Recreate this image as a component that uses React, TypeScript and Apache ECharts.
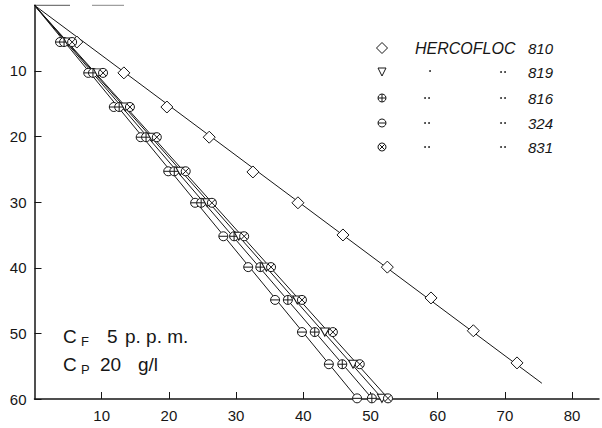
import React, { useEffect, useRef } from 'react';
import * as echarts from 'echarts';

const xTickValues = [10, 20, 30, 40, 50, 60, 70, 80];
const yTickValues = [10, 20, 30, 40, 50, 60];

const seriesNames = ['HERCOFLOC 810', 'HERCOFLOC 819', 'HERCOFLOC 816', 'HERCOFLOC 324', 'HERCOFLOC 831'];

const points810 = [[6.3, 5.6], [13.3, 10.3], [19.7, 15.5], [26.0, 20.1], [32.5, 25.4], [39.2, 30.1], [45.9, 35.0], [52.5, 39.9], [59.0, 44.6], [65.3, 49.6], [71.8, 54.5]];
const points324 = [[3.8, 5.6], [8.0, 10.3], [11.8, 15.5], [15.8, 20.1], [19.9, 25.3], [23.9, 30.1], [28.1, 35.2], [31.8, 39.9], [35.8, 44.9], [39.8, 49.8], [43.8, 54.7], [48.0, 59.9]];
const points816 = [[4.4, 5.6], [8.7, 10.3], [12.6, 15.5], [16.6, 20.1], [20.8, 25.3], [24.8, 30.1], [29.7, 35.2], [33.6, 39.9], [37.7, 44.9], [41.7, 49.8], [45.8, 54.7], [50.2, 59.9]];
const points819 = [[5.0, 5.6], [9.45, 10.3], [13.5, 15.5], [17.5, 20.1], [21.7, 25.3], [25.7, 30.1], [30.4, 35.2], [34.5, 39.9], [39.1, 44.9], [43.2, 49.8], [47.4, 54.7], [51.7, 59.9]];
const points831 = [[5.6, 5.6], [10.2, 10.3], [14.2, 15.5], [18.2, 20.1], [22.5, 25.3], [26.4, 30.1], [31.2, 35.2], [35.2, 39.9], [39.8, 44.9], [44.4, 49.8], [48.4, 54.7], [52.6, 59.9]];

const fit810 = [[0, 0], [75.5, 57.6]];
const fit324 = [[0, 0], [48.1, 60]];
const fit816 = [[0, 0], [50.3, 60]];
const fit819 = [[0, 0], [51.8, 60]];
const fit831 = [[0, 0], [52.7, 60]];

const INK = '#161616';
const CIRCLE = 'M0,10A10,10,0,1,1,20,10A10,10,0,1,1,0,10Z';
const SYM_PLUS = 'path://' + CIRCLE + 'M0,10L20,10M10,0L10,20';
const SYM_MINUS = 'path://' + CIRCLE + 'M0,10L20,10';
const SYM_X = 'path://' + CIRCLE + 'M2.93,2.93L17.07,17.07M17.07,2.93L2.93,17.07';
const SYM_TRI = 'path://M0,0L20,0L10,17Z';

function scatter(name: string, data: number[][], symbol: string, size: number | number[]) {
  return {
    name,
    type: 'scatter',
    data,
    symbol,
    symbolSize: size,
    clip: false,
    z: 5,
    itemStyle: { color: '#fff', borderColor: INK, borderWidth: 1, opacity: 1 },
  };
}

function fitLine(data: number[][]) {
  return {
    type: 'line',
    data,
    symbol: 'none',
    clip: false,
    z: 2,
    lineStyle: { color: INK, width: 1 },
  };
}

export default function App() {
  const ref = useRef<HTMLDivElement>(null);
  useEffect(() => {
    if (!ref.current) return;
    const chart = echarts.init(ref.current, null, { renderer: 'svg' });
    const legendRows = [48, 72, 98, 123, 147];
    const sx = 382;
    const txt = (x: number, y: number, text: string, size: number, italic = false, align = 'left') => ({
      type: 'text',
      x,
      y,
      style: {
        text,
        fontSize: size,
        fontFamily: 'Liberation Sans',
        fontStyle: italic ? 'italic' : 'normal',
        fill: INK,
        align,
        verticalAlign: 'middle',
      },
    });
    const dot = (cx: number, cy: number) => ({
      type: 'circle',
      shape: { cx, cy, r: 0.9 },
      style: { fill: INK },
    });
    const ditto = (cx: number, cy: number) => [dot(cx - 2, cy), dot(cx + 2, cy)];
    const stroke = { fill: '#fff', stroke: INK, lineWidth: 1 };
    const ln = (x1: number, y1: number, x2: number, y2: number, color = INK) => ({
      type: 'line',
      shape: { x1, y1, x2, y2 },
      style: { stroke: color, lineWidth: 1 },
    });
    const r = 4;
    const d = r * 0.707;
    const graphic: any[] = [
      // faint top frame remnant
      ln(34.5, 5.3, 70, 5.3, '#555'),
      ln(92, 5.3, 124, 5.3, '#888'),
      // legend symbols
      { type: 'polygon', shape: { points: [[sx, legendRows[0] - 5.5], [sx + 5.5, legendRows[0]], [sx, legendRows[0] + 5.5], [sx - 5.5, legendRows[0]]] }, style: stroke },
      { type: 'polygon', shape: { points: [[sx - 4, legendRows[1] - 4], [sx + 4, legendRows[1] - 4], [sx, legendRows[1] + 4]] }, style: stroke },
      { type: 'circle', shape: { cx: sx, cy: legendRows[2], r }, style: stroke },
      ln(sx - r, legendRows[2], sx + r, legendRows[2]),
      ln(sx, legendRows[2] - r, sx, legendRows[2] + r),
      { type: 'circle', shape: { cx: sx, cy: legendRows[3], r }, style: stroke },
      ln(sx - r, legendRows[3], sx + r, legendRows[3]),
      { type: 'circle', shape: { cx: sx, cy: legendRows[4], r }, style: stroke },
      ln(sx - d, legendRows[4] - d, sx + d, legendRows[4] + d),
      ln(sx + d, legendRows[4] - d, sx - d, legendRows[4] + d),
      // legend texts
      txt(415, legendRows[0], 'HERCOFLOC', 16, true),
      txt(528, legendRows[0], '810', 15, true),
      dot(430, legendRows[1] - 1),
      ...ditto(503, legendRows[1]),
      txt(528, legendRows[1], '819', 15, true),
      ...ditto(427, legendRows[2]),
      ...ditto(503, legendRows[2]),
      txt(528, legendRows[2], '816', 15, true),
      ...ditto(427, legendRows[3]),
      ...ditto(503, legendRows[3]),
      txt(528, legendRows[3], '324', 15, true),
      ...ditto(427, legendRows[4]),
      ...ditto(503, legendRows[4]),
      txt(528, legendRows[4], '831', 15, true),
      // condition annotations
      txt(63, 336, 'C', 19),
      txt(81, 341, 'F', 13),
      txt(107, 336, '5', 19),
      txt(125, 336, 'p. p. m.', 19),
      txt(63, 364, 'C', 19),
      txt(81, 369, 'P', 13),
      txt(100, 364, '20', 19),
      txt(138, 364, 'g/l', 19),
    ];

    chart.setOption({
      animation: false,
      backgroundColor: '#fff',
      grid: { left: 34.5, top: 5.3, right: 3, bottom: 29, containLabel: false },
      xAxis: {
        type: 'value',
        min: 0,
        max: 84,
        interval: 10,
        splitLine: { show: false },
        axisLine: { show: true, onZero: false, lineStyle: { color: INK, width: 1.5 } },
        axisTick: { show: true, inside: true, length: 7, customValues: xTickValues, lineStyle: { color: INK, width: 1 } },
        axisLabel: { customValues: xTickValues, margin: 9, color: INK, fontSize: 15, fontFamily: 'Liberation Sans' },
      },
      yAxis: {
        type: 'value',
        inverse: true,
        min: 0,
        max: 60,
        interval: 10,
        splitLine: { show: false },
        axisLine: { show: true, onZero: false, lineStyle: { color: INK, width: 1.5 } },
        axisTick: { show: true, inside: true, length: 7, customValues: yTickValues, lineStyle: { color: INK, width: 1 } },
        axisLabel: { customValues: yTickValues, margin: 8, color: INK, fontSize: 15, fontFamily: 'Liberation Sans' },
      },
      graphic,
      series: [
        fitLine(fit810),
        fitLine(fit324),
        fitLine(fit816),
        fitLine(fit819),
        fitLine(fit831),
        scatter(seriesNames[0], points810, 'diamond', 12),
        scatter(seriesNames[3], points324, SYM_MINUS, 9),
        scatter(seriesNames[2], points816, SYM_PLUS, 9),
        scatter(seriesNames[1], points819, SYM_TRI, [9, 8]),
        scatter(seriesNames[4], points831, SYM_X, 9),
      ],
    });
    return () => chart.dispose();
  }, []);
  return <div ref={ref} style={{ position: 'fixed', left: 0, top: 0, width: 602, height: 428, background: '#fff' }} />;
}
